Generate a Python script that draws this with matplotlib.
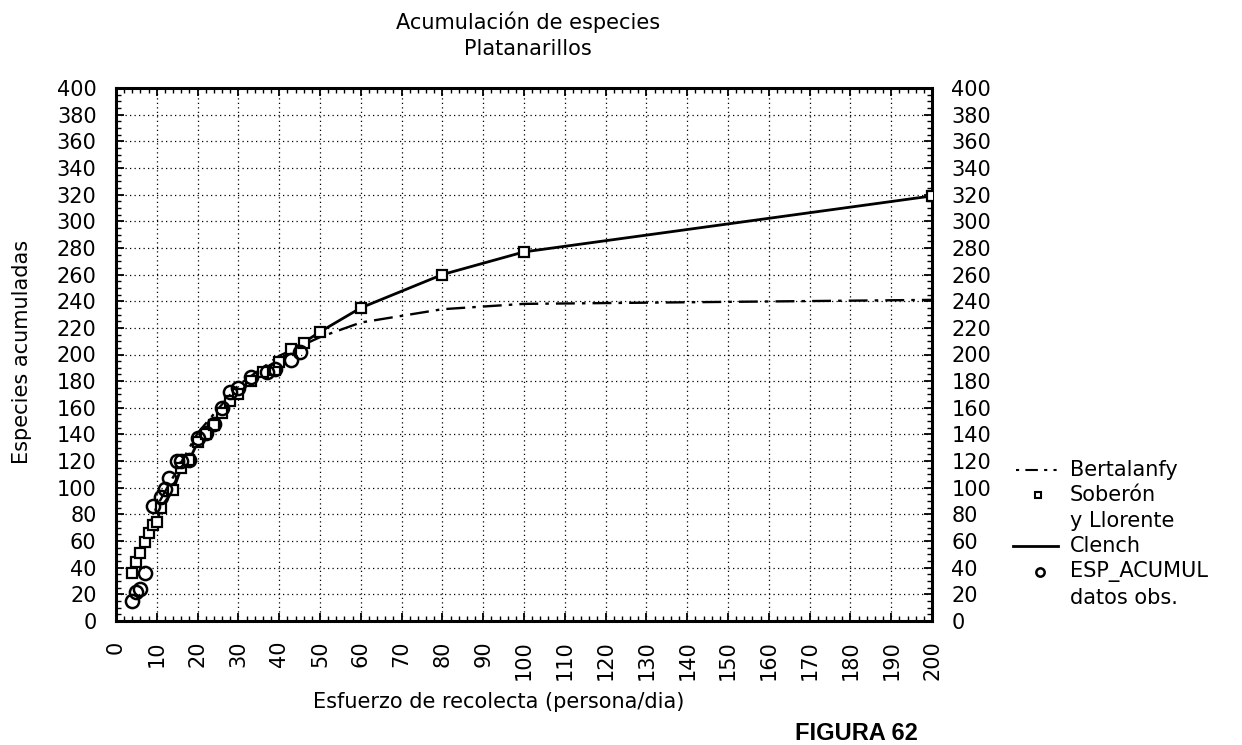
import matplotlib
matplotlib.use("Agg")
import matplotlib.pyplot as plt
from matplotlib.lines import Line2D
from matplotlib.ticker import MultipleLocator

# Observed cumulative species (ESP_ACUMUL)
obs_x = [4, 5, 6, 7, 9, 11, 12, 13, 15, 16, 18, 20, 22, 24, 26, 28, 30, 33, 37, 39, 43, 45]
obs_y = [15, 22, 24, 36, 86, 93, 99, 107, 120, 120, 121, 137, 141, 148, 160, 172, 175, 183, 187, 189, 196, 202]

# Soberón y Llorente estimates, joined by the Clench curve
model_x = [4, 5, 6, 7, 8, 9, 10, 11, 14, 16, 18, 20, 22, 24, 26, 28, 30, 33, 36, 39, 40, 43, 46,
           50, 60, 80, 100, 200]
model_y = [36, 44, 51, 59, 66, 72, 74, 85, 98, 115, 121, 134, 140, 147, 156, 165, 170, 180, 187, 188,
           194, 204, 209, 217, 235, 260, 277, 319]

# Bertalanffy curve
bert_x = [4, 10, 20, 30, 40, 50, 60, 80, 100, 200]
bert_y = [39, 86, 141, 177, 199, 213, 224, 234, 238, 241]

x_ticks = list(range(0, 201, 10))
y_ticks = list(range(0, 401, 20))

W, H = 1242, 745
FS = 15
plt.rcParams['font.family'] = ['DejaVu Sans']

fig = plt.figure(figsize=(W / 100, H / 100), dpi=100)
ax = fig.add_axes([116 / W, 1 - 621 / H, (932 - 116) / W, (621 - 88) / H])
ax.set_xlim(0, 200)
ax.set_ylim(0, 400)

ax.set_xticks(x_ticks)
ax.set_yticks(y_ticks)
ax.xaxis.set_minor_locator(MultipleLocator(2))
ax.yaxis.set_minor_locator(MultipleLocator(5))
ax.grid(True, which='major', color='black', linestyle=(0, (1, 2.6)), linewidth=0.9)
ax.set_axisbelow(True)

ax.plot(bert_x, bert_y, color='black', lw=1.7, linestyle=(0, (8, 3, 1.5, 3)), zorder=3)
ax.plot(model_x, model_y, color='black', lw=2.0, zorder=4)
ax.plot(model_x, model_y, linestyle='none', marker='s', ms=7, mfc='white', mec='black',
        mew=1.6, zorder=5)
ax.plot(obs_x, obs_y, linestyle='none', marker='o', ms=9.5, mfc='none', mec='black',
        mew=1.8, zorder=6)

for s in ax.spines.values():
    s.set_linewidth(2.2)
    s.set_color('black')

ax.tick_params(which='both', direction='in', top=True, right=True, left=True, bottom=True,
               labelleft=True, labelright=True, colors='black')
ax.tick_params(which='major', length=6, width=1.3)
ax.tick_params(which='minor', length=3.5, width=1.0)
ax.tick_params(axis='y', which='major', labelsize=FS, pad=14)
ax.tick_params(axis='x', which='major', labelsize=FS, pad=14, labelrotation=90)
ax.set_xticklabels([str(v) for v in x_ticks])
ax.set_yticklabels([str(v) for v in y_ticks])

# Titles and axis labels
cx = 528 / W
fig.text(cx, 1 - 22 / H, 'Acumulación de especies', ha='center', va='center', fontsize=FS)
fig.text(cx, 1 - 49 / H, 'Platanarillos', ha='center', va='center', fontsize=FS)
fig.text(22 / W, 1 - 352 / H, 'Especies acumuladas', rotation=90, ha='center', va='center',
         fontsize=FS)
fig.text(499 / W, 1 - 702 / H, 'Esfuerzo de recolecta (persona/dia)', ha='center', va='center',
         fontsize=FS)
fig.text(795 / W, 1 - 740 / H, 'FIGURA 62', ha='left', va='baseline', fontsize=17,
         fontweight='bold', family=['Liberation Sans', 'DejaVu Sans'])


# Legend drawn in figure pixel coordinates
def fx(px):
    return px / W


def fy(py):
    return 1 - py / H


rows = [470, 495, 521, 546, 572, 598]
labels = ['Bertalanfy', 'Soberón', 'y Llorente', 'Clench', 'ESP_ACUMUL', 'datos obs.']
for py, txt in zip(rows, labels):
    fig.text(fx(1070), fy(py), txt, ha='left', va='center', fontsize=FS)

fig.add_artist(Line2D([fx(1016), fx(1058)], [fy(470), fy(470)], color='black', lw=1.5,
                      linestyle=(0, (1.5, 3, 6, 3, 1.5, 3)), transform=fig.transFigure))
fig.add_artist(Line2D([fx(1038)], [fy(495)], linestyle='none', marker='s', ms=5,
                      mfc='white', mec='black', mew=1.5, transform=fig.transFigure))
fig.add_artist(Line2D([fx(1013), fx(1058)], [fy(546), fy(546)], color='black', lw=2.0,
                      transform=fig.transFigure))
fig.add_artist(Line2D([fx(1040)], [fy(572)], linestyle='none', marker='o', ms=6,
                      mfc='white', mec='black', mew=1.8, transform=fig.transFigure))

fig.savefig('out.png', dpi=100, facecolor='white')
